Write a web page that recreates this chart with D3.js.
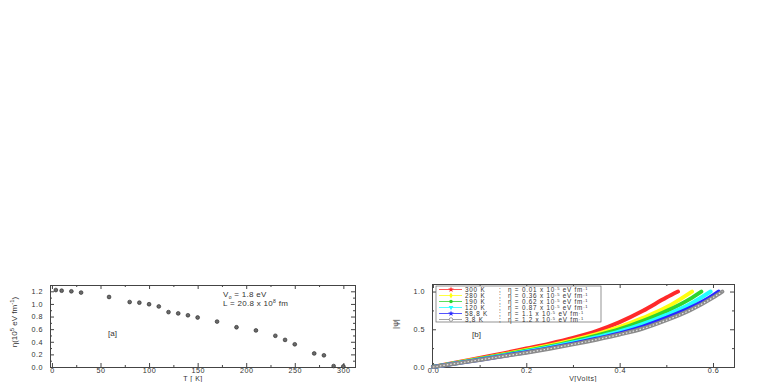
<!DOCTYPE html>
<html>
<head>
<meta charset="utf-8">
<script src="https://cdn.jsdelivr.net/npm/d3@7"></script>
<style>
  body { margin: 0; background: #fff; }
  svg text { font-family: "Liberation Sans", Arial, sans-serif; fill: #333; }
</style>
</head>
<body>
<div id="chart"></div>
<script>
// ---- panel (a) data: eta vs temperature
var tempK = [4, 10, 20, 30, 58.8, 80, 90, 100, 110, 120, 130, 140, 150, 170, 190, 210, 230, 240, 250, 270, 280, 290, 300];
var eta = [1.22, 1.21, 1.20, 1.18, 1.11, 1.03, 1.02, 0.995, 0.96, 0.87, 0.85, 0.82, 0.785, 0.72, 0.63, 0.58, 0.495, 0.43, 0.36, 0.215, 0.185, 0.015, 0.01];
var xTicksA = [0, 50, 100, 150, 200, 250, 300];
var yTicksA = [0.0, 0.2, 0.4, 0.6, 0.8, 1.0, 1.2];

// ---- panel (b) data: |psi| vs V for several temperatures
var seriesNames = ["300 K", "280 K", "190 K", "120 K", "58,8 K", "3,8 K"];
var seriesEta = ["0.01", "0.36", "0.62", "0.87", "1.1", "1.2"];
var seriesColors = ["#ff2a2a", "#ffff10", "#2ed52e", "#22ffff", "#2828ff", "#8c8c8c"];
var volts300 = [0, 0.05, 0.1, 0.15, 0.2, 0.25, 0.3, 0.35, 0.4, 0.45, 0.5, 0.525];
var psi300 = [0, 0.06, 0.12, 0.18, 0.245, 0.31, 0.385, 0.475, 0.595, 0.745, 0.92, 1.0];
var volts280 = [0, 0.05, 0.1, 0.15, 0.2, 0.25, 0.3, 0.35, 0.4, 0.45, 0.5, 0.555];
var psi280 = [0, 0.055, 0.11, 0.165, 0.225, 0.285, 0.355, 0.435, 0.53, 0.65, 0.79, 1.0];
var volts190 = [0, 0.05, 0.1, 0.15, 0.2, 0.25, 0.3, 0.35, 0.4, 0.45, 0.5, 0.55, 0.575];
var psi190 = [0, 0.052, 0.105, 0.158, 0.215, 0.272, 0.34, 0.415, 0.5, 0.61, 0.74, 0.9, 1.0];
var volts120 = [0, 0.05, 0.1, 0.15, 0.2, 0.25, 0.3, 0.35, 0.4, 0.45, 0.5, 0.55, 0.595];
var psi120 = [0, 0.05, 0.1, 0.152, 0.205, 0.262, 0.325, 0.395, 0.47, 0.57, 0.69, 0.83, 1.0];
var volts58 = [0, 0.05, 0.1, 0.15, 0.2, 0.25, 0.3, 0.35, 0.4, 0.45, 0.5, 0.55, 0.6, 0.612];
var psi58 = [0, 0.048, 0.096, 0.146, 0.195, 0.25, 0.31, 0.375, 0.445, 0.535, 0.65, 0.78, 0.95, 1.0];
var volts3 = [0, 0.05, 0.1, 0.15, 0.2, 0.25, 0.3, 0.35, 0.4, 0.45, 0.5, 0.55, 0.6, 0.62];
var psi3 = [0, 0.047, 0.094, 0.142, 0.19, 0.243, 0.3, 0.362, 0.43, 0.51, 0.62, 0.75, 0.92, 1.0];
var xTicksB = [0.0, 0.2, 0.4, 0.6];
var yTicksB = [0.0, 0.5, 1.0];

var allVolts = [volts300, volts280, volts190, volts120, volts58, volts3];
var allPsi = [psi300, psi280, psi190, psi120, psi58, psi3];

var width = 763, height = 382;
var svg = d3.select("#chart").append("svg")
  .attr("width", width).attr("height", height);

// draws a boxed frame with inward ticks on all four sides
function frame(x, y, xMajor, yMajor, xMinor, yMinor, xFmt, yFmt) {
  var x0 = x.range()[0], x1 = x.range()[1];
  var y0 = y.range()[0], y1 = y.range()[1];
  var g = svg.append("g");
  g.append("g").attr("transform", "translate(0," + y0 + ")")
    .call(d3.axisBottom(x).tickValues(xMajor).tickSize(-4).tickFormat(xFmt).tickPadding(0.5));
  g.append("g").attr("transform", "translate(0," + y1 + ")")
    .call(d3.axisTop(x).tickValues(xMajor).tickSize(-4).tickFormat(""));
  g.append("g").attr("transform", "translate(" + x0 + ",0)")
    .call(d3.axisLeft(y).tickValues(yMajor).tickSize(-4).tickFormat(yFmt).tickPadding(7));
  g.append("g").attr("transform", "translate(" + x1 + ",0)")
    .call(d3.axisRight(y).tickValues(yMajor).tickSize(-4).tickFormat(""));
  // minor ticks
  g.append("g").attr("transform", "translate(0," + y0 + ")")
    .call(d3.axisBottom(x).tickValues(xMinor).tickSize(-2).tickFormat(""));
  g.append("g").attr("transform", "translate(0," + y1 + ")")
    .call(d3.axisTop(x).tickValues(xMinor).tickSize(-2).tickFormat(""));
  g.append("g").attr("transform", "translate(" + x0 + ",0)")
    .call(d3.axisLeft(y).tickValues(yMinor).tickSize(-2).tickFormat(""));
  g.append("g").attr("transform", "translate(" + x1 + ",0)")
    .call(d3.axisRight(y).tickValues(yMinor).tickSize(-2).tickFormat(""));
  g.selectAll(".domain").attr("stroke", "#444");
  g.selectAll(".tick line").attr("stroke", "#444");
  g.selectAll(".tick text").style("font-size", "7.2px").attr("fill", "#333")
    .style("letter-spacing", "0.5px")
    .style("font-family", "'Liberation Sans', Arial, sans-serif");
  return g;
}

// ================= panel (a)
var xA = d3.scaleLinear().domain([-2, 312]).range([50, 355]);
var yA = d3.scaleLinear().domain([0, 1.3]).range([367, 285]);

frame(xA, yA, xTicksA, yTicksA, [25, 75, 125, 175, 225, 275],
  [0.1, 0.3, 0.5, 0.7, 0.9, 1.1], d3.format("d"), d3.format(".1f"));

svg.append("g").selectAll("circle")
  .data(tempK)
  .enter().append("circle")
  .attr("cx", function(d) { return xA(d); })
  .attr("cy", function(d, i) { return yA(eta[i]); })
  .attr("r", 1.9)
  .attr("fill", "#6a6a6a")
  .attr("stroke", "#222")
  .attr("stroke-width", 0.6);

svg.append("text").attr("x", 193).attr("y", 381.3).attr("text-anchor", "middle")
  .style("font-size", "7px").style("letter-spacing", "0.5px").text("T [ K]");
svg.append("text").attr("transform", "translate(17,322) rotate(-90)")
  .attr("text-anchor", "middle").style("font-size", "8px")
  .html("η(10<tspan dy='-3' font-size='6'>5</tspan><tspan dy='3'> eV fm</tspan><tspan dy='-3' font-size='6'>-1</tspan><tspan dy='3'>)</tspan>");
svg.append("text").attr("x", 223).attr("y", 297).style("font-size", "8px").style("letter-spacing", "0.3px")
  .html("V<tspan dy='2' font-size='5'>o</tspan><tspan dy='-2'> = 1.8 eV</tspan>");
svg.append("text").attr("x", 223).attr("y", 306).style("font-size", "8px").style("letter-spacing", "0.3px")
  .html("L = 20.8 x 10<tspan dy='-3' font-size='5'>8</tspan><tspan dy='3'> fm</tspan>");
svg.append("text").attr("x", 108).attr("y", 336).style("font-size", "8px").text("[a]");

// ================= panel (b)
var xB = d3.scaleLinear().domain([-0.002, 0.645]).range([432, 734]);
var yB = d3.scaleLinear().domain([0, 1.1]).range([367, 284]);

frame(xB, yB, xTicksB, yTicksB, [0.1, 0.3, 0.5], [0.25, 0.75], d3.format(".1f"), d3.format(".1f"));

var line = d3.line()
  .x(function(d) { return xB(d[0]); })
  .y(function(d) { return yB(d[1]); })
  .curve(d3.curveMonotoneX);

var curves = svg.append("g");
for (var s = 0; s < seriesNames.length; s++) {
  var pts = d3.zip(allVolts[s], allPsi[s]);
  curves.append("path")
    .attr("d", line(pts))
    .attr("fill", "none")
    .attr("stroke", seriesColors[s])
    .attr("stroke-width", 4)
    .attr("stroke-linecap", "round");
}
// open-circle look on the lowest curve
curves.append("path")
  .attr("d", line(d3.zip(volts3, psi3)))
  .attr("fill", "none")
  .attr("stroke", "#e6e6e6")
  .attr("stroke-width", 1.2)
  .attr("stroke-dasharray", "1.5,2");

svg.append("text").attr("x", 472).attr("y", 337).style("font-size", "8px").text("[b]");
svg.append("text").attr("x", 583).attr("y", 381.3).attr("text-anchor", "middle")
  .style("font-size", "7px").style("letter-spacing", "0.5px").text("V[Volts]");
svg.append("text").attr("transform", "translate(398,324) rotate(-90)")
  .attr("text-anchor", "middle").style("font-size", "8px").text("|ψ|");

// legend
var legend = svg.append("g");
legend.append("rect").attr("x", 436).attr("y", 286).attr("width", 165).attr("height", 36)
  .attr("fill", "#fff").attr("stroke", "#666").attr("stroke-width", 0.7);
var symbols = [d3.symbolStar, d3.symbolDiamond, d3.symbolCircle, d3.symbolTriangle, d3.symbolStar, d3.symbolCircle];
seriesNames.forEach(function(name, i) {
  var ly = 289.5 + i * 6;
  legend.append("line").attr("x1", 439).attr("x2", 462).attr("y1", ly).attr("y2", ly)
    .attr("stroke", seriesColors[i]).attr("stroke-width", 0.8);
  legend.append("path").attr("d", d3.symbol().type(symbols[i]).size(10)())
    .attr("transform", "translate(451," + ly + ")" + (i == 3 ? " rotate(180)" : ""))
    .attr("fill", i == 5 ? "#fff" : seriesColors[i])
    .attr("stroke", i == 5 ? "#666" : "none").attr("stroke-width", 0.6);
  legend.append("text").attr("x", 465).attr("y", ly + 2.2).style("font-size", "6.3px")
    .style("letter-spacing", "0.8px").text(name);
  legend.append("text").attr("x", 499).attr("y", ly + 2.2).style("font-size", "6.3px").text(";");
  legend.append("text").attr("x", 508).attr("y", ly + 2.2).style("font-size", "6.3px")
    .style("letter-spacing", "0.8px")
    .html("η = " + seriesEta[i] + " x 10<tspan dy='-2' font-size='4'>-5</tspan><tspan dy='2'> eV fm</tspan><tspan dy='-2' font-size='4'>-1</tspan>");
});
</script>
</body>
</html>
